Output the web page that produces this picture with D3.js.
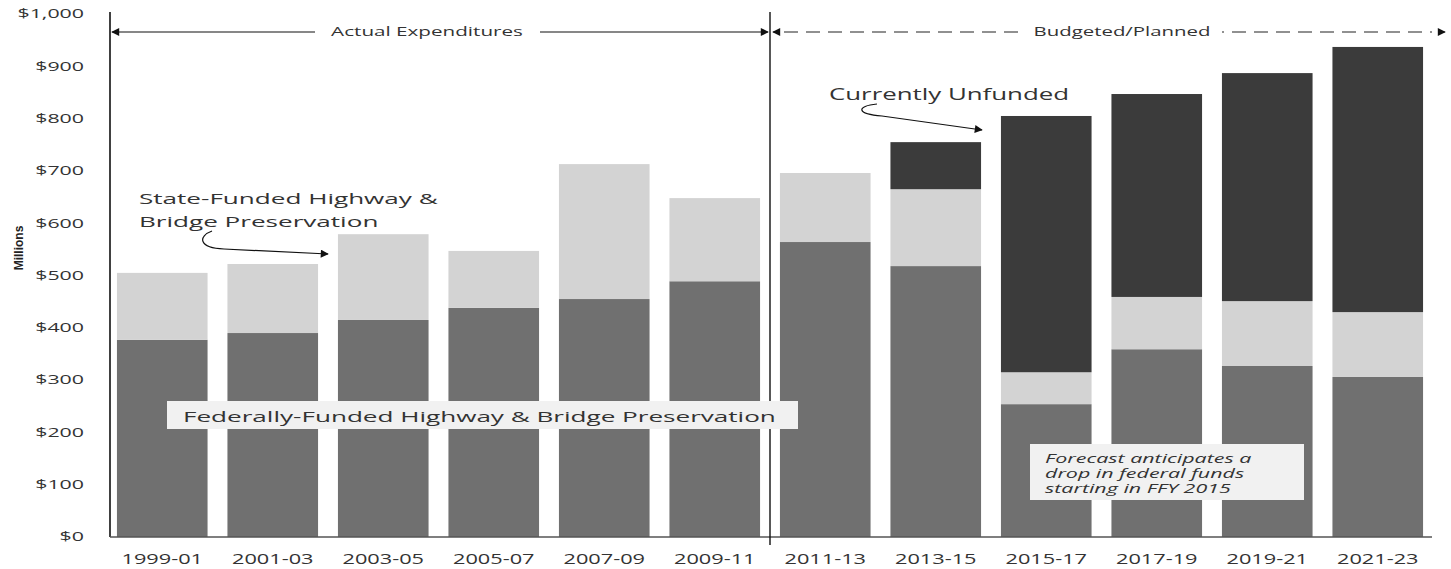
<!DOCTYPE html>
<html>
<head>
<meta charset="utf-8">
<script src="https://cdn.jsdelivr.net/npm/d3@7"></script>
<style>
  html, body { margin: 0; padding: 0; background: #fff; }
  svg { display: block; }
  text { font-family: "Open Sans", sans-serif; fill: #333; }
</style>
</head>
<body>
<div id="chart"></div>
<script>
// Highway & bridge preservation funding, stacked by source (millions)

const PERIODS = ['1999-01', '2001-03', '2003-05', '2005-07', '2007-09', '2009-11',
                 '2011-13', '2013-15', '2015-17', '2017-19', '2019-21', '2021-23'];
const FEDERAL  = [377, 390, 415, 438, 455, 489, 564, 518, 254, 359, 327, 306];
const STATE    = [128, 132, 164, 109, 258, 159, 132, 147, 61, 100, 124, 124];
const UNFUNDED = [0, 0, 0, 0, 0, 0, 0, 90, 490, 388, 436, 507];
const Y_TICKS  = [0, 100, 200, 300, 400, 500, 600, 700, 800, 900, 1000];

const SERIES = [
    { key: 'federal', color: '#707070' },
    { key: 'state', color: '#d3d3d3' },
    { key: 'unfunded', color: '#3b3b3b' }
];

(function () {
    const W = 1451, H = 569;
    const svg = d3.select('#chart').append('svg').attr('width', W).attr('height', H);

    const rows = PERIODS.map((p, i) => ({ period: p, federal: FEDERAL[i], state: STATE[i], unfunded: UNFUNDED[i] }));
    const stacked = d3.stack().keys(SERIES.map(s => s.key))(rows);

    const x = d3.scaleBand().domain(PERIODS).range([107, 1433]).paddingInner(0.18).paddingOuter(0.09);
    const y = d3.scaleLinear().domain([0, 1000]).range([537, 14]);

    // text stretched horizontally, the source picture is wide
    function label(g, tx, ty, str, size, sx, opts) {
        opts = opts || {};
        return g.append('text')
            .attr('transform', `translate(${tx},${ty}) scale(${sx},1)`)
            .attr('text-anchor', opts.anchor || 'start')
            .style('font-size', size + 'px')
            .style('font-style', opts.italic ? 'italic' : null)
            .style('fill', opts.fill || '#333')
            .text(str);
    }

    const defs = svg.append('defs');
    defs.append('marker').attr('id', 'arr').attr('viewBox', '0 0 10 10')
        .attr('refX', 9).attr('refY', 5).attr('markerWidth', 9).attr('markerHeight', 8)
        .attr('markerUnits', 'userSpaceOnUse').attr('orient', 'auto-start-reverse')
        .append('path').attr('d', 'M0,0 L10,5 L0,10 Z').attr('fill', '#111');

    // bars
    svg.append('g').selectAll('g').data(stacked).enter().append('g')
        .attr('fill', (d, i) => SERIES[i].color)
        .selectAll('rect').data(d => d).enter().append('rect')
        .attr('x', d => x(d.data.period))
        .attr('y', d => y(d[1]))
        .attr('width', x.bandwidth())
        .attr('height', d => y(d[0]) - y(d[1]));

    // y axis
    const yAxis = svg.append('g').attr('transform', 'translate(110,0)')
        .call(d3.axisLeft(y).tickValues(Y_TICKS).tickSize(0).tickSizeOuter(0)
            .tickFormat(d => '$' + d3.format(',')(d)));
    yAxis.select('.domain').attr('stroke', '#111').attr('stroke-width', 1.6).attr('d', 'M0,12V537');
    yAxis.selectAll('text').attr('x', -26 / 1.78).attr('transform', 'scale(1.78,1)')
        .style('font-size', '12px').style('fill', '#333').style('font-family', '"Open Sans", sans-serif');

    // x axis
    const xAxis = svg.append('g').attr('transform', 'translate(0,537)')
        .call(d3.axisBottom(x).tickSize(0).tickSizeOuter(0).tickPadding(16));
    xAxis.select('.domain').attr('stroke', '#555').attr('stroke-width', 1.5).attr('d', 'M110,0H1432');
    xAxis.selectAll('text').attr('transform', 'scale(1.45,1)')
        .attr('x', 0)
        .style('font-size', '15px').style('fill', '#333').style('font-family', '"Open Sans", sans-serif');

    // Millions
    svg.append('text')
        .attr('transform', 'translate(23,248) rotate(-90)')
        .attr('text-anchor', 'middle')
        .style('font-family', '"Liberation Sans Narrow", "Arial Narrow", sans-serif')
        .style('font-size', '12px').style('font-weight', 'bold').style('fill', '#222')
        .text('Millions');

    // separator between actual and planned
    const sepX = (x('2009-11') + x.bandwidth() + x('2011-13')) / 2;
    svg.append('line').attr('x1', sepX).attr('x2', sepX).attr('y1', 12).attr('y2', 545)
        .attr('stroke', '#111').attr('stroke-width', 1.4);

    const ann = svg.append('g');
    const topY = 32;
    // Actual Expenditures
    ann.append('line').attr('x1', 315).attr('x2', 112).attr('y1', topY).attr('y2', topY)
        .attr('stroke', '#111').attr('stroke-width', 1.2).attr('marker-end', 'url(#arr)');
    ann.append('line').attr('x1', 540).attr('x2', sepX - 2).attr('y1', topY).attr('y2', topY)
        .attr('stroke', '#111').attr('stroke-width', 1.2).attr('marker-end', 'url(#arr)');
    label(ann, 427, topY + 4, 'Actual Expenditures', 12, 1.72, { anchor: 'middle' });
    // Budgeted/Planned
    ann.append('line').attr('x1', 1018).attr('x2', sepX + 3).attr('y1', topY).attr('y2', topY)
        .attr('stroke', '#222').attr('stroke-width', 1.2).attr('stroke-dasharray', '14,8').attr('marker-end', 'url(#arr)');
    ann.append('line').attr('x1', 1222).attr('x2', 1445).attr('y1', topY).attr('y2', topY)
        .attr('stroke', '#222').attr('stroke-width', 1.2).attr('stroke-dasharray', '2,8,14,8,14,8,14,8,14,8,14,8,14,8,14,8,14,8,14,8')
        .attr('marker-end', 'url(#arr)');
    label(ann, 1122, topY + 4, 'Budgeted/Planned', 12, 1.7, { anchor: 'middle' });

    // State-Funded callout
    label(ann, 139, 204, 'State-Funded Highway &', 15, 1.74);
    label(ann, 139, 227, 'Bridge Preservation', 15, 1.74);
    ann.append('path').attr('d', 'M212,231 C198,236 198,248 224,249 L328,254')
        .attr('fill', 'none').attr('stroke', '#111').attr('stroke-width', 1.2).attr('marker-end', 'url(#arr)');

    // Currently Unfunded callout
    label(ann, 829, 100, 'Currently Unfunded', 17, 1.52);
    ann.append('path').attr('d', 'M877,104 C856,106 856,114 882,116 L982,130')
        .attr('fill', 'none').attr('stroke', '#111').attr('stroke-width', 1.2).attr('marker-end', 'url(#arr)');

    // Federally-Funded box
    ann.append('rect').attr('x', 167).attr('y', 401).attr('width', 631).attr('height', 28).attr('fill', '#f1f1f1');
    label(ann, 183, 422, 'Federally-Funded Highway & Bridge Preservation', 15, 1.74);

    // forecast note
    ann.append('rect').attr('x', 1030).attr('y', 444).attr('width', 274).attr('height', 56).attr('fill', '#f1f1f1');
    const note = ['Forecast anticipates a', 'drop in federal funds', 'starting in FFY 2015'];
    note.forEach((t, i) => label(ann, 1045, 463 + i * 15, t, 13, 1.65, { italic: true }));
})();
</script>
</body>
</html>
